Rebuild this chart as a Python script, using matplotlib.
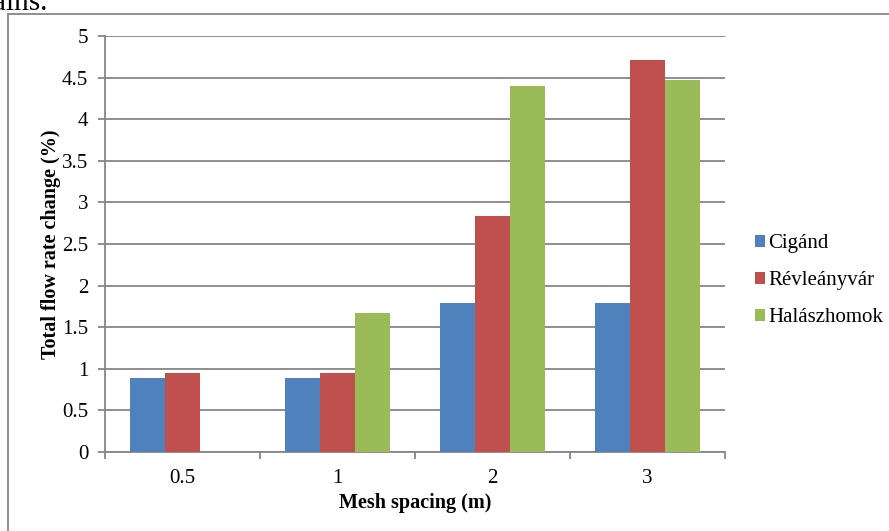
import matplotlib.pyplot as plt
import numpy as np
from matplotlib.lines import Line2D

plt.rcParams['font.family'] = ['Liberation Serif', 'DejaVu Serif']

spacing = ['0.5', '1', '2', '3']
cigand = [0.89, 0.89, 1.79, 1.79]
revleanyvar = [0.95, 0.95, 2.84, 4.71]
halaszhomok = [0.0, 1.67, 4.40, 4.47]

series = [('Cigánd', cigand, '#4F81BD'),
          ('Révleányvár', revleanyvar, '#C0504D'),
          ('Halászhomok', halaszhomok, '#9BBB59')]

grid_col = '#868686'

fig = plt.figure(figsize=(8.89, 5.31), dpi=100)
ax = fig.add_axes([105/889, 79/531, 620/889, 416/531])

x = np.arange(len(spacing))
w = 0.224
for i, (name, vals, col) in enumerate(series):
    ax.bar(x + (i - 1) * w, vals, w, color=col, label=name, linewidth=0, zorder=3)

ax.set_xlim(-0.5, 3.5)
ax.set_ylim(0, 5)
ax.set_yticks(np.arange(0, 5.01, 0.5))
ax.set_yticklabels(['0', '0.5', '1', '1.5', '2', '2.5', '3', '3.5', '4', '4.5', '5'])
ax.yaxis.grid(True, color=grid_col, linewidth=1.3)
ax.set_axisbelow(True)

ax.set_xticks(x)
ax.set_xticklabels(spacing)
ax.set_xticks(np.arange(-0.5, 3.6, 1), minor=True)
ax.tick_params(axis='x', which='major', length=0, pad=12, labelsize=15)
ax.tick_params(axis='x', which='minor', length=5, width=1.3, color=grid_col, direction='out')
ax.tick_params(axis='y', length=5, width=1.3, color=grid_col, pad=7, labelsize=15)

for s in ['top', 'right']:
    ax.spines[s].set_visible(False)
for s in ['left', 'bottom']:
    ax.spines[s].set_color(grid_col)
    ax.spines[s].set_linewidth(1.3)

ax.set_xlabel('Mesh spacing (m)', fontsize=14.5, fontweight='bold', labelpad=4)
ax.set_ylabel('Total flow rate change (%)', fontsize=14.5, fontweight='bold', labelpad=0.5)

ax.legend(loc='center left', bbox_to_anchor=(755/889, 0.471), bbox_transform=fig.transFigure,
          frameon=False, fontsize=15, handlelength=0.5, handleheight=0.5,
          handletextpad=0.15, labelspacing=0.86, borderpad=0, borderaxespad=0)

# chart frame and the end of the preceding line of text
fig.add_artist(Line2D([8/889, 8/889], [0, 1 - 14/531], color=grid_col, lw=1.3))
fig.add_artist(Line2D([8/889, 1], [1 - 14/531, 1 - 14/531], color=grid_col, lw=1.3))
fig.text(-0.008, 1 - 10/531, 'ains.', fontsize=21, va='baseline', ha='left')

fig.savefig('out.png', dpi=100)
